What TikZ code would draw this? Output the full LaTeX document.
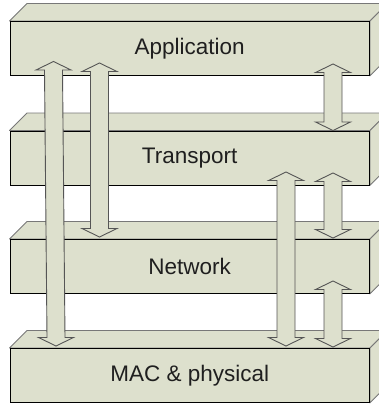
\documentclass[tikz,border=0pt]{standalone}
\usepackage{fontspec}
\setmainfont{Liberation Sans}
\usetikzlibrary{calc,backgrounds}
\definecolor{boxfill}{RGB}{221,224,205}
\definecolor{topline}{RGB}{120,120,120}
\definecolor{arrline}{RGB}{85,85,85}
\tikzset{
  layer/.style={draw=black, line width=0.9pt, fill=boxfill,
    minimum width=359.5pt, minimum height=54pt, inner sep=0pt,
    font=\fontsize{22.5}{27}\selectfont, text=black!88, anchor=north west},
  slab/.style={draw=topline, line width=0.9pt, fill=boxfill, line join=round},
  blockarrow/.style={draw=arrline, line width=0.9pt, fill=boxfill, line join=miter},
}
\newcommand\slabfaces[1]{%
  \begin{scope}[on background layer]
    \draw[slab] (#1.north west) -- ++(17.5,-17.5) -- ($(#1.north east)+(17.5,-17.5)$)
      -- (#1.north east) -- cycle;
    \draw[slab] (#1.north east) -- ($(#1.north east)+(17.5,-17.5)$)
      -- ($(#1.south east)+(17.5,-17.5)$) -- (#1.south east) -- cycle;
  \end{scope}}
\newcommand\dblarrow[2]{%
  \draw[blockarrow] (#1) -- ($(#1)+(17.5,8.5)$) -- ($(#1)+(9,8.5)$)
    -- ($(#2)+(9,-8.5)$) -- ($(#2)+(17.5,-8.5)$) -- (#2)
    -- ($(#2)+(-17.5,-8.5)$) -- ($(#2)+(-9,-8.5)$)
    -- ($(#1)+(-9,8.5)$) -- ($(#1)+(-17.5,8.5)$) -- cycle;}
\begin{document}
\begin{tikzpicture}[x=1pt,y=-1pt]
  \useasboundingbox (0,0) rectangle (379,404);
  \clip (0,0) rectangle (379,404);
  \node[layer] (app) at (9.5,21)    {Application};
  \node[layer] (tra) at (9.5,130.5) {Transport};
  \node[layer] (net) at (9.5,239)   {Network};
  \node[layer] (mac) at (9.5,348)   {MAC \& physical};
  \slabfaces{app}
  \slabfaces{tra}
  \slabfaces{net}
  \slabfaces{mac}
  \coordinate (a1t) at (53.5,61.5);  \coordinate (a1b) at (56,346);
  \coordinate (a2t) at (99.5,63);    \coordinate (a2b) at (99.5,237);
  \coordinate (a3t) at (333,64);     \coordinate (a3b) at (333,130.5);
  \coordinate (a4t) at (286,172);    \coordinate (a4b) at (286,346);
  \coordinate (a5t) at (333,173);    \coordinate (a5b) at (333,238);
  \coordinate (a6t) at (333,281);    \coordinate (a6b) at (333,347);
  \dblarrow{a1t}{a1b}
  \dblarrow{a2t}{a2b}
  \dblarrow{a3t}{a3b}
  \dblarrow{a4t}{a4b}
  \dblarrow{a5t}{a5b}
  \dblarrow{a6t}{a6b}
\end{tikzpicture}
\end{document}
